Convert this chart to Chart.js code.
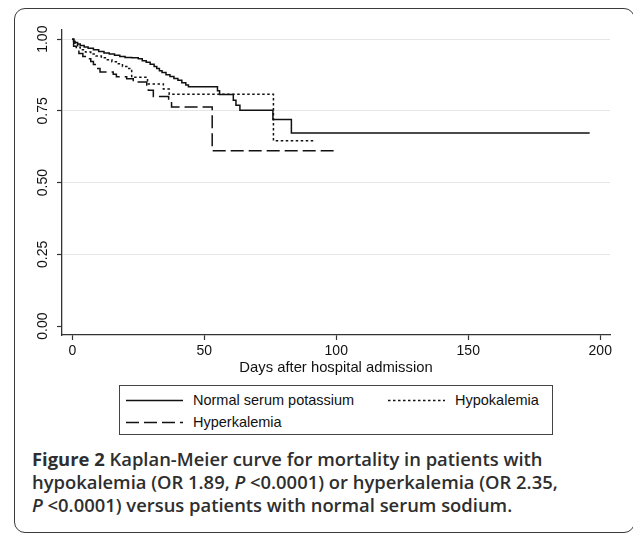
<!DOCTYPE html>
<html>
<head>
<meta charset="utf-8">
<script src="https://cdn.jsdelivr.net/npm/chart.js@4.4.1/dist/chart.umd.min.js"></script>
<style>
  html, body { margin: 0; padding: 0; background: #fff; }
  body { width: 633px; height: 533px; position: relative; overflow: hidden; font-family: "Liberation Sans", Arial, sans-serif; }
  #frame { position: absolute; left: 14px; top: 8px; width: 621px; height: 525px; border: 1.5px solid #3a3a3a; border-radius: 11px; box-sizing: border-box; }
  #plot { position: absolute; left: 0; top: 0; }
  #legend { position: absolute; left: 119px; top: 385px; width: 434px; height: 50px; border: 1px solid #444; box-sizing: border-box; font-size: 14.5px; color: #111; }
  #legend .item { position: absolute; height: 20px; display: flex; align-items: center; white-space: nowrap; }
  #legend svg { display: block; margin-right: 10px; }
  #caption { position: absolute; left: 32px; top: 447px; font-family: "Open Sans", sans-serif; font-weight: 600; font-size: 18.4px; line-height: 23px; color: #2e2e2e; white-space: nowrap; }
  #caption b { font-weight: 700; }
</style>
</head>
<body>
<div id="frame"></div>
<canvas id="plot" width="633" height="380"></canvas>
<div id="legend"></div>
<div id="caption"><b>Figure 2</b> Kaplan-Meier curve for mortality in patients with<br>hypokalemia (OR 1.89, <i>P</i> &lt;0.0001) or hyperkalemia (OR 2.35,<br><i>P</i> &lt;0.0001) versus patients with normal serum sodium.</div>

<script>
// survival curves (days, proportion surviving)
const normalDays = [0, 0.5, 1, 2, 3, 4.5, 6, 8, 10, 12, 14, 16, 18, 20, 22.5, 25, 26.5, 28, 29.5, 31, 32, 33, 34, 35.5, 37, 38.5, 40, 41.5, 43, 44, 55, 55.8, 61, 62, 63.5, 76, 83, 196];
const normalSurv = [1, 0.993, 0.988, 0.983, 0.978, 0.973, 0.968, 0.963, 0.957, 0.952, 0.948, 0.944, 0.940, 0.936, 0.935, 0.932, 0.925, 0.920, 0.913, 0.905, 0.898, 0.890, 0.884, 0.876, 0.870, 0.863, 0.857, 0.848, 0.840, 0.834, 0.820, 0.807, 0.787, 0.770, 0.752, 0.720, 0.673, 0.673];

const hypoDays = [0, 0.5, 1, 2, 3, 5, 7, 9, 11, 13, 15, 17, 19, 21, 22.5, 28.5, 34.5, 36.7, 76.2, 91.3];
const hypoSurv = [1, 0.99, 0.982, 0.972, 0.963, 0.955, 0.948, 0.941, 0.935, 0.928, 0.921, 0.914, 0.905, 0.898, 0.867, 0.844, 0.826, 0.808, 0.646, 0.646];

const hyperDays = [0, 0.5, 1.5, 2.5, 4, 5.5, 7, 8, 9.2, 10.5, 15.5, 16.7, 20.6, 23.1, 28.2, 28.8, 30.7, 36.5, 37.6, 53, 99];
const hyperSurv = [1, 0.975, 0.962, 0.95, 0.94, 0.932, 0.922, 0.912, 0.898, 0.886, 0.878, 0.869, 0.862, 0.851, 0.840, 0.822, 0.800, 0.782, 0.764, 0.611, 0.611];

const seriesNames = ['Normal serum potassium', 'Hypokalemia', 'Hyperkalemia'];
const xTicks = [0, 50, 100, 150, 200];
const yTicks = [0, 0.25, 0.5, 0.75, 1];
const yTickLabels = ['0.00', '0.25', '0.50', '0.75', '1.00'];
const xTitle = 'Days after hospital admission';

const FONT = '"Liberation Sans", Arial, sans-serif';
const dashes = [[], [2.5, 2.5], [13, 5]];

function toPoints(days, surv) {
    return days.map((d, i) => ({ x: d, y: surv[i] }));
}

const curves = [
    toPoints(normalDays, normalSurv),
    toPoints(hypoDays, hypoSurv),
    toPoints(hyperDays, hyperSurv)
];

document.addEventListener('DOMContentLoaded', function () {
    const ctx = document.getElementById('plot').getContext('2d');
    new Chart(ctx, {
        type: 'line',
        data: {
            datasets: curves.map((pts, i) => ({
                label: seriesNames[i],
                data: pts,
                stepped: true,
                borderColor: '#111',
                borderWidth: 1.5,
                borderDash: dashes[i],
                pointRadius: 0,
                fill: false
            }))
        },
        options: {
            responsive: false,
            animation: false,
            layout: { padding: { left: 20, top: 30, right: 23, bottom: 0 } },
            plugins: {
                legend: { display: false },
                tooltip: { enabled: false }
            },
            scales: {
                x: {
                    type: 'linear',
                    min: -3.9,
                    max: 203.7,
                    afterBuildTicks: s => { s.ticks = xTicks.map(v => ({ value: v })); },
                    afterFit: s => { s.height = 45; },
                    grid: { drawOnChartArea: false, tickLength: 5, tickColor: '#333', tickWidth: 1.2 },
                    border: { color: '#333', width: 1.3 },
                    ticks: { color: '#111', font: { family: FONT, size: 14 }, padding: 3, maxRotation: 0 },
                    title: {
                        display: true,
                        text: xTitle,
                        color: '#111',
                        font: { family: FONT, size: 14.8 },
                        padding: { top: 0, bottom: 3 }
                    }
                },
                y: {
                    min: -0.031,
                    max: 1.032,
                    afterBuildTicks: s => { s.ticks = yTicks.map(v => ({ value: v })); },
                    afterFit: s => { s.width = 42; },
                    grid: {
                        color: c => (c.tick && c.tick.value === 0) ? 'rgba(0,0,0,0)' : '#e6e6e6',
                        lineWidth: 1,
                        tickLength: 5,
                        tickColor: '#333',
                        tickWidth: 1.2
                    },
                    border: { color: '#333', width: 1.3 },
                    ticks: {
                        color: '#111',
                        font: { family: FONT, size: 14 },
                        minRotation: 90,
                        maxRotation: 90,
                        crossAlign: 'center',
                        padding: 0,
                        callback: v => yTickLabels[yTicks.indexOf(v)]
                    }
                }
            }
        }
    });

    // legend laid out like the Stata key: two columns, boxed
    const legend = document.getElementById('legend');
    const spots = [[6, 4], [268, 4], [6, 26]];
    seriesNames.forEach((name, i) => {
        const item = document.createElement('div');
        item.className = 'item';
        item.style.left = spots[i][0] + 'px';
        item.style.top = spots[i][1] + 'px';
        const dash = dashes[i].length ? ' stroke-dasharray="' + dashes[i].join(' ') + '"' : '';
        item.innerHTML = '<svg width="57" height="20"><line x1="0" y1="10.5" x2="57" y2="10.5" stroke="#111" stroke-width="1.4"' + dash + '/></svg><span>' + name + '</span>';
        legend.appendChild(item);
    });
});
</script>
</body>
</html>
